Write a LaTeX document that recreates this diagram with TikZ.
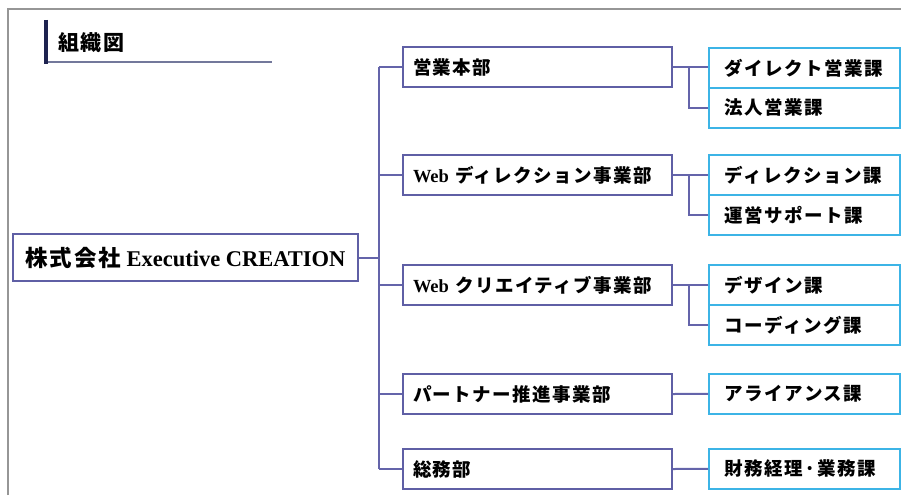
\documentclass[tikz,border=0pt]{standalone}
\usepackage{fontspec}
\setmainfont{Liberation Serif}
\newfontfamily\jp{Noto Sans CJK JP}[LetterSpace=8]
\usetikzlibrary{calc}
\definecolor{deptc}{RGB}{95,95,165}
\definecolor{linec}{RGB}{100,100,170}
\definecolor{secc}{RGB}{60,180,230}
\definecolor{barc}{RGB}{30,35,80}
\definecolor{ulc}{RGB}{115,120,155}
\definecolor{framec}{RGB}{150,150,150}
\tikzset{
  rootbox/.style={draw=deptc, line width=2pt, anchor=north west, minimum width=345pt, minimum height=47pt, inner sep=0pt, font=\fontsize{22.5}{24}\selectfont\bfseries},
  deptbox/.style={draw=deptc, line width=2pt, anchor=north west, minimum width=269pt, minimum height=40pt, inner xsep=10pt, inner ysep=0pt, text width=249pt, align=left, font=\fontsize{18.5}{20}\selectfont\bfseries},
  secbox/.style={draw=secc, line width=1.8pt, anchor=north west, minimum width=191pt, minimum height=40pt, inner xsep=16pt, inner ysep=0pt, text width=159pt, align=left, font=\fontsize{18.5}{20}\selectfont\bfseries},
  conn/.style={draw=linec, line width=2pt},
}
\begin{document}
\begin{tikzpicture}[x=1pt,y=-1pt]
\useasboundingbox (0,0) rectangle (901,495);
% frame
\draw[framec, line width=2.5pt] (8,495) -- (8,9) -- (901,9);
% title
\draw[ulc, line width=2pt] (46,62) -- (272,62);
\draw[barc, line width=4pt] (46,20) -- (46,64);
\node[anchor=west, inner sep=0pt, font=\fontsize{21}{22}\selectfont\bfseries\jp] (title) at (58,43) {組織図};
% root
\node[rootbox] (root) at (12,233) {{\jp 株式会社} Executive CREATION};
% departments
\node[deptbox] (d1) at (402,46) {\jp 営業本部};
\node[deptbox] (d2) at (402,154) {Web {\jp ディレクション事業部}};
\node[deptbox] (d3) at (402,264) {Web {\jp クリエイティブ事業部}};
\node[deptbox] (d4) at (402,373) {\jp パートナー推進事業部};
\node[deptbox] (d5) at (402,448) {\jp 総務部};
% sections
\node[secbox] (s1a) at (708,47) {\jp ダイレクト営業課};
\node[secbox] (s1b) at (708,87) {\jp 法人営業課};
\node[secbox] (s2a) at (708,154) {\jp ディレクション課};
\node[secbox] (s2b) at (708,194) {\jp 運営サポート課};
\node[secbox] (s3a) at (708,264) {\jp デザイン課};
\node[secbox] (s3b) at (708,304) {\jp コーディング課};
\node[secbox] (s4) at (708,373) {\jp アライアンス課};
\node[secbox] (s5) at (708,448) {\jp 財務経理·業務課};
% trunk
\coordinate (tk) at (379,256);
\draw[conn] (root.east) -- (root.east -| tk);
\draw[conn] (d1.west -| tk) -- (d5.west -| tk);
\foreach \d in {d1,d2,d3,d4,d5} {\draw[conn] (\d.west -| tk) -- (\d.west);}
% dept to sections
\draw[conn] (d1.east) -- (d1.east -| s1a.west);
\draw[conn] ($(d1.east)!0.46!(d1.east -| s1a.west)$) |- (s1b.west);
\draw[conn] (d2.east) -- (d2.east -| s2a.west);
\draw[conn] ($(d2.east)!0.46!(d2.east -| s2a.west)$) |- (s2b.west);
\draw[conn] (d3.east) -- (d3.east -| s3a.west);
\draw[conn] ($(d3.east)!0.46!(d3.east -| s3a.west)$) |- (s3b.west);
\draw[conn] (d4.east) -- (s4.west);
\draw[conn] (d5.east) -- (s5.west);
\end{tikzpicture}
\end{document}
